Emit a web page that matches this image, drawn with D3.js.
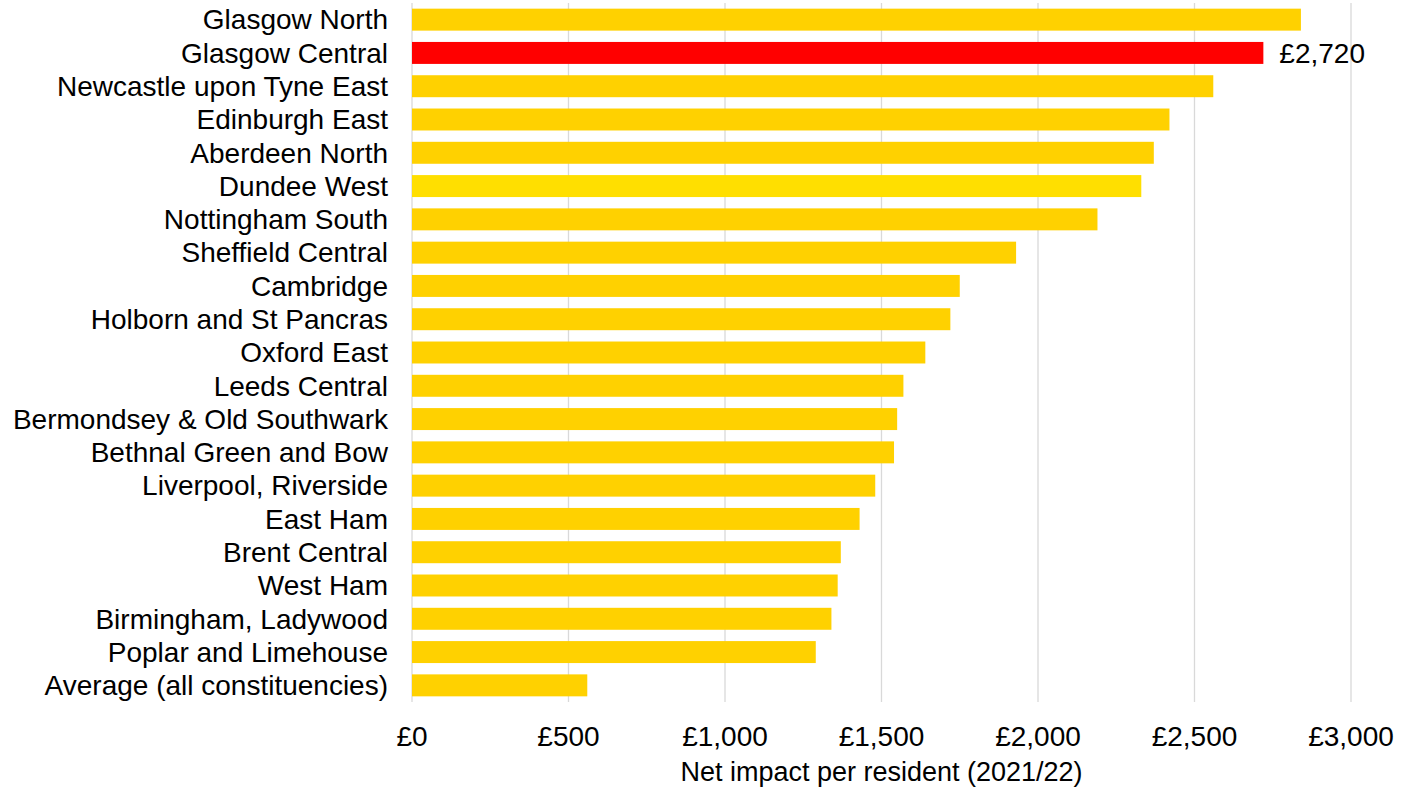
<!DOCTYPE html>
<html>
<head>
<meta charset="utf-8">
<script src="https://cdn.jsdelivr.net/npm/d3@7"></script>
<style>
  body { margin: 0; background: #fff; }
  text { font-family: "Liberation Sans", Arial, sans-serif; fill: #000; }
</style>
</head>
<body>
<div id="chart"></div>
<script>
// constituencies, top to bottom
const places = [
    "Glasgow North", "Glasgow Central", "Newcastle upon Tyne East", "Edinburgh East",
    "Aberdeen North", "Dundee West", "Nottingham South", "Sheffield Central",
    "Cambridge", "Holborn and St Pancras", "Oxford East", "Leeds Central",
    "Bermondsey & Old Southwark", "Bethnal Green and Bow", "Liverpool, Riverside",
    "East Ham", "Brent Central", "West Ham", "Birmingham, Ladywood",
    "Poplar and Limehouse", "Average (all constituencies)"
];
const impact = [
    2840, 2720, 2560, 2420, 2370, 2330, 2190, 1930, 1750, 1720, 1640,
    1570, 1550, 1540, 1480, 1430, 1370, 1360, 1340, 1290, 560
];
const xTicks = [0, 500, 1000, 1500, 2000, 2500, 3000];
const highlight = "Glasgow Central";
const brighter = "Dundee West";

const data = places.map((p, i) => ({ place: p, value: impact[i] }));

const width = 1413,
      height = 792,
      margin = ({ top: 3, right: 62, bottom: 90, left: 412 });

let svg = d3.select("#chart")
    .append("svg")
    .attr("width", width)
    .attr("height", height);

let x = d3.scaleLinear()
    .domain([0, 3000])
    .range([margin.left, width - margin.right]);

let y = d3.scaleBand()
    .domain(places)
    .range([margin.top, height - margin.bottom])
    .paddingInner(0.34)
    .paddingOuter(0.17);

// vertical gridlines
svg.append("g")
    .selectAll("line")
    .data(xTicks)
    .join("line")
    .attr("x1", d => x(d))
    .attr("x2", d => x(d))
    .attr("y1", margin.top)
    .attr("y2", height - margin.bottom)
    .attr("stroke", "#d9d9d9")
    .attr("stroke-width", 1.3);

// x tick labels
svg.append("g")
    .selectAll("text")
    .data(xTicks)
    .join("text")
    .attr("x", d => x(d))
    .attr("y", 746)
    .attr("text-anchor", "middle")
    .style("font-size", "28px")
    .text(d => "£" + d3.format(",")(d));

// category labels
svg.append("g")
    .selectAll("text")
    .data(places)
    .join("text")
    .attr("x", margin.left - 24)
    .attr("y", d => y(d) + y.bandwidth() / 2)
    .attr("dy", "0.35em")
    .attr("text-anchor", "end")
    .style("font-size", "28px")
    .text(d => d);

// bars
svg.append("g")
    .selectAll("rect")
    .data(data)
    .join("rect")
    .attr("x", x(0))
    .attr("y", d => y(d.place))
    .attr("width", d => x(d.value) - x(0))
    .attr("height", y.bandwidth())
    .attr("fill", d => d.place === highlight ? "#ff0000" : d.place === brighter ? "#ffdf00" : "#ffd100");

// value label on highlighted bar
let hl = data.find(d => d.place === highlight);
svg.append("text")
    .attr("x", x(hl.value) + 16)
    .attr("y", y(hl.place) + y.bandwidth() / 2)
    .attr("dy", "0.35em")
    .style("font-size", "28px")
    .text("£" + d3.format(",")(hl.value));

svg.append("text")
    .attr("class", "x-label")
    .attr("text-anchor", "middle")
    .attr("x", (x(0) + x(3000)) / 2)
    .attr("y", 781)
    .style("font-size", "27px")
    .text("Net impact per resident (2021/22)");
</script>
</body>
</html>
